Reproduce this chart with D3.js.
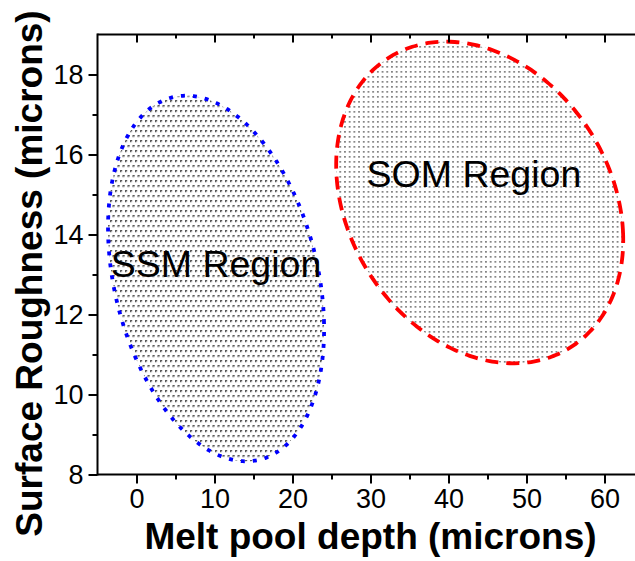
<!DOCTYPE html>
<html>
<head>
<meta charset="utf-8">
<script src="https://cdn.jsdelivr.net/npm/d3@7"></script>
<style>
  html, body { margin: 0; padding: 0; background: #fff; }
  svg { display: block; font-family: "Liberation Sans", Arial, sans-serif; }
  .tick text { font-size: 27px; font-family: "Liberation Sans", Arial, sans-serif; fill: #000; }
  .tick line { stroke: #000; stroke-width: 2; }
</style>
</head>
<body>
<svg id="chart" width="635" height="561"></svg>
<script>
// axis setup
const xDomain = [-5, 65];
const yDomain = [8, 19];
const xTicks = [0, 10, 20, 30, 40, 50, 60];
const xMinorTicks = [5, 15, 25, 35, 45, 55, 65];
const yTicks = [8, 10, 12, 14, 16, 18];
const yMinorTicks = [9, 11, 13, 15, 17];

// regions (data units): centre, half extent in x / y, x shift of the top point
const regionNames = ['SSM Region', 'SOM Region'];
const regionCx = [10.2, 44.0];
const regionCy = [12.9, 14.8];
const regionHalfX = [13.85, 18.4];
const regionHalfY = [4.57, 4.02];
const regionTopShift = [-3.85, -4.3];
const labelX = [-3.3, 29.5];
const labelY = [12.94, 15.2];

const W = 635, H = 561;
const margin = {left: 97.5, top: 34.5, bottom: 86.5};
const plotRight = margin.left + 70 * 7.8;

const svg = d3.select('#chart');

const x = d3.scaleLinear().domain(xDomain).range([margin.left, plotRight]);
const y = d3.scaleLinear().domain(yDomain).range([H - margin.bottom, margin.top]);

// fill patterns
const defs = svg.append('defs');
const pSSM = defs.append('pattern')
    .attr('id', 'pat-ssm')
    .attr('patternUnits', 'userSpaceOnUse')
    .attr('width', 5).attr('height', 10);
pSSM.append('path').attr('d', 'M0,0 h2.2 v1.1 h-1.1 v1.1 h-1.1 z').attr('fill', '#5a5a5a');
pSSM.append('path').attr('d', 'M2.5,5 h2.2 v1.1 h-1.1 v1.1 h-1.1 z').attr('fill', '#5a5a5a');
pSSM.append('rect').attr('x', 1.1).attr('y', 1.1).attr('width', 1.1).attr('height', 1.1).attr('fill', '#999');
pSSM.append('rect').attr('x', 3.6).attr('y', 6.1).attr('width', 1.1).attr('height', 1.1).attr('fill', '#999');

const pSOM = defs.append('pattern')
    .attr('id', 'pat-som')
    .attr('patternUnits', 'userSpaceOnUse')
    .attr('width', 4.7).attr('height', 5);
pSOM.append('rect').attr('x', 1).attr('y', 1).attr('width', 1.7).attr('height', 1.7).attr('fill', '#7a7a7a');

const fills = ['url(#pat-ssm)', 'url(#pat-som)'];
const strokes = ['#0000ff', '#ff0000'];
const dashes = ['4,8', '13,8'];

const clip = defs.append('clipPath').attr('id', 'plot-clip');
clip.append('rect')
    .attr('x', margin.left).attr('y', margin.top)
    .attr('width', W - margin.left).attr('height', H - margin.bottom - margin.top);

function ellipsePoints(i) {
    const phi = Math.acos(regionTopShift[i] / regionHalfX[i]);
    return d3.range(0, 360, 2).map(deg => {
        const t = deg * Math.PI / 180;
        return [regionCx[i] + regionHalfX[i] * Math.cos(t),
                regionCy[i] + regionHalfY[i] * Math.cos(t - phi)];
    });
}

const line = d3.line()
    .x(d => x(d[0]))
    .y(d => y(d[1]))
    .curve(d3.curveCardinalClosed);

const regions = svg.append('g').attr('clip-path', 'url(#plot-clip)');
regionNames.forEach((name, i) => {
    regions.append('path')
        .attr('d', line(ellipsePoints(i)))
        .attr('fill', fills[i])
        .attr('stroke', strokes[i])
        .attr('stroke-width', 3.8)
        .attr('stroke-dasharray', dashes[i]);
});

regionNames.forEach((name, i) => {
    svg.append('text')
        .attr('x', x(labelX[i]))
        .attr('y', y(labelY[i]))
        .attr('font-size', 37.5)
        .attr('fill', '#000')
        .text(name);
});

// axes
const yBase = H - margin.bottom;
svg.append('g')
    .attr('transform', `translate(0,${yBase})`)
    .call(d3.axisBottom(x).tickValues(xTicks).tickSize(9).tickPadding(5).tickFormat(d3.format('d')))
    .call(g => g.select('.domain').remove());
svg.append('g')
    .attr('transform', `translate(0,${yBase})`)
    .call(d3.axisBottom(x).tickValues(xMinorTicks).tickSize(5).tickFormat(''))
    .call(g => g.select('.domain').remove());

svg.append('g')
    .attr('transform', `translate(0,${margin.top})`)
    .call(d3.axisBottom(x).tickValues(xTicks).tickSize(8).tickFormat(''))
    .call(g => g.select('.domain').remove());
svg.append('g')
    .attr('transform', `translate(0,${margin.top})`)
    .call(d3.axisBottom(x).tickValues(xMinorTicks).tickSize(4).tickFormat(''))
    .call(g => g.select('.domain').remove());

svg.append('g')
    .attr('transform', `translate(${margin.left},0)`)
    .call(d3.axisLeft(y).tickValues(yTicks).tickSize(9).tickPadding(5).tickFormat(d3.format('d')))
    .call(g => g.select('.domain').remove());
svg.append('g')
    .attr('transform', `translate(${margin.left},0)`)
    .call(d3.axisLeft(y).tickValues(yMinorTicks).tickSize(5).tickFormat(''))
    .call(g => g.select('.domain').remove());

// frame lines
svg.append('line')
    .attr('x1', margin.left).attr('x2', W)
    .attr('y1', yBase).attr('y2', yBase)
    .attr('stroke', '#000').attr('stroke-width', 2);
svg.append('line')
    .attr('x1', margin.left).attr('x2', W)
    .attr('y1', margin.top).attr('y2', margin.top)
    .attr('stroke', '#000').attr('stroke-width', 2);
svg.append('line')
    .attr('x1', margin.left).attr('x2', margin.left)
    .attr('y1', margin.top - 1).attr('y2', yBase + 1)
    .attr('stroke', '#000').attr('stroke-width', 2);

// titles
svg.append('text')
    .attr('x', (margin.left + plotRight) / 2)
    .attr('y', 549)
    .attr('text-anchor', 'middle')
    .attr('font-size', 37)
    .attr('font-weight', 'bold')
    .text('Melt pool depth (microns)');

svg.append('text')
    .attr('transform', `translate(42,${(margin.top + yBase) / 2 + 19}) rotate(-90)`)
    .attr('text-anchor', 'middle')
    .attr('font-size', 37)
    .attr('font-weight', 'bold')
    .text('Surface Roughness (microns)');
</script>
</body>
</html>
